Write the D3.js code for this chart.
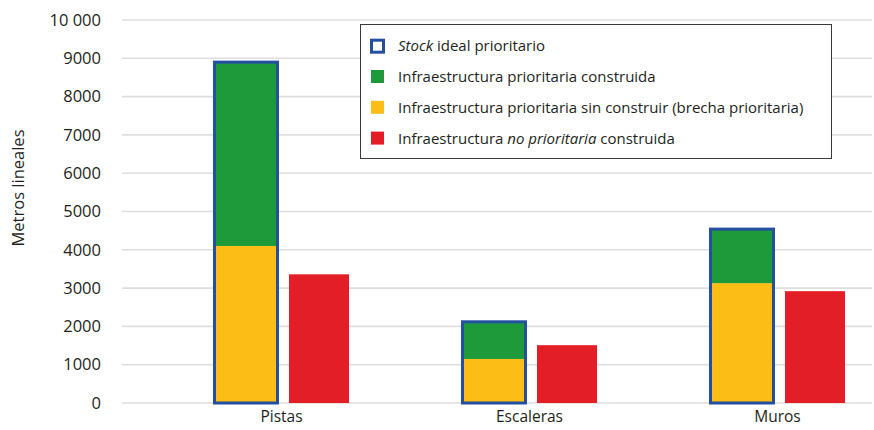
<!DOCTYPE html>
<html>
<head>
<meta charset="utf-8">
<script src="https://cdnjs.cloudflare.com/ajax/libs/d3/7.8.5/d3.min.js"></script>
<style>
  body{margin:0;background:#fff;}
  text{font-family:"Open Sans",sans-serif;fill:#231f20;}
</style>
</head>
<body>
<svg id="svg" width="874" height="430"></svg>
<script>
'use strict';

// data
var categories = ["Pistas", "Escaleras", "Muros"];
var brecha = [4100, 1150, 3130];        // prioritaria sin construir (yellow)
var construida = [4800, 970, 1410];     // prioritaria construida (green)
var noPrioritaria = [3360, 1510, 2920]; // no prioritaria construida (red)
var yTicks = [0,1000,2000,3000,4000,5000,6000,7000,8000,9000,10000];
var yTickLabels = ["0","1000","2000","3000","4000","5000","6000","7000","8000","9000","10 000"];

var colors = {green:"#1e9a3a", yellow:"#fbbd16", red:"#e41e26", blue:"#2450a0"};

var svg = d3.select("#svg");

var y = d3.scaleLinear().domain([0,10000]).range([403,20]);
var x = d3.scalePoint().domain(categories).range([281,777]);

// gridlines
svg.append("g").selectAll("line")
  .data(yTicks)
  .enter().append("line")
  .attr("x1",122).attr("x2",872)
  .attr("y1",function(d){return y(d);})
  .attr("y2",function(d){return y(d);})
  .style("stroke","#dedede")
  .style("stroke-width",1.6);

// y axis labels
var yAxis = d3.axisLeft(y).tickValues(yTicks)
  .tickFormat(function(d,i){return yTickLabels[i];})
  .tickSize(0).tickPadding(0);
var ya = svg.append("g").attr("transform","translate(101,0)").call(yAxis);
ya.select(".domain").remove();
ya.selectAll("text").style("font-size","16.5px").style("font-family","'Open Sans',sans-serif").style("fill","#231f20");

svg.append("text")
  .attr("transform","translate(24,188) rotate(-90)")
  .attr("text-anchor","middle")
  .style("font-size","16.5px")
  .text("Metros lineales");

// x axis labels
var xAxis = d3.axisBottom(x).tickSize(0).tickPadding(0);
var xa = svg.append("g").attr("transform","translate(0,411)").call(xAxis);
xa.select(".domain").remove();
xa.selectAll("text").style("font-size","15.5px").style("font-family","'Open Sans',sans-serif").style("fill","#231f20");

var stackW = 63, redW = 60, offS = 35, offR = 38;
var rows = categories.map(function(c,i){
  return {cat:c, brecha:brecha[i], construida:construida[i], red:noPrioritaria[i]};
});

// yellow part
svg.append("g").selectAll("rect").data(rows).enter().append("rect")
  .attr("x",function(d){return x(d.cat)-offS-stackW/2;})
  .attr("width",stackW)
  .attr("y",function(d){return y(d.brecha);})
  .attr("height",function(d){return y(0)-y(d.brecha);})
  .style("fill",colors.yellow);

// green part
svg.append("g").selectAll("rect").data(rows).enter().append("rect")
  .attr("x",function(d){return x(d.cat)-offS-stackW/2;})
  .attr("width",stackW)
  .attr("y",function(d){return y(d.brecha+d.construida);})
  .attr("height",function(d){return y(d.brecha)-y(d.brecha+d.construida);})
  .style("fill",colors.green);

// stock ideal outline
svg.append("g").selectAll("rect").data(rows).enter().append("rect")
  .attr("x",function(d){return x(d.cat)-offS-stackW/2;})
  .attr("width",stackW)
  .attr("y",function(d){return y(d.brecha+d.construida);})
  .attr("height",function(d){return y(0)-y(d.brecha+d.construida);})
  .style("fill","none")
  .style("stroke",colors.blue)
  .style("stroke-width",3);

// red bars
svg.append("g").selectAll("rect").data(rows).enter().append("rect")
  .attr("x",function(d){return x(d.cat)+offR-redW/2;})
  .attr("width",redW)
  .attr("y",function(d){return y(d.red);})
  .attr("height",function(d){return y(0)-y(d.red);})
  .style("fill",colors.red);

// legend
var legend = svg.append("g");
legend.append("rect")
  .attr("x",360.5).attr("y",24.5).attr("width",471).attr("height",134)
  .style("fill","#fff").style("stroke","#3a3a3a").style("stroke-width",1);

var items = [
  {parts:[["Stock",true],[" ideal prioritario",false]], type:"outline", color:colors.blue},
  {parts:[["Infraestructura prioritaria construida",false]], type:"fill", color:colors.green},
  {parts:[["Infraestructura prioritaria sin construir (brecha prioritaria)",false]], type:"fill", color:colors.yellow},
  {parts:[["Infraestructura ",false],["no prioritaria",true],[" construida",false]], type:"fill", color:colors.red}
];

var li = legend.selectAll(".item").data(items).enter().append("g")
  .attr("class","item")
  .attr("transform",function(d,i){return "translate(0,"+(45.7+i*30.8)+")";});

li.append("rect")
  .attr("x",function(d){return d.type=="outline"?371.5:371;})
  .attr("y",function(d){return d.type=="outline"?-5.5:-6.5;})
  .attr("width",function(d){return d.type=="outline"?12:13;})
  .attr("height",function(d){return d.type=="outline"?12:13;})
  .style("fill",function(d){return d.type=="outline"?"#fff":d.color;})
  .style("stroke",function(d){return d.type=="outline"?d.color:"none";})
  .style("stroke-width",3);

var lt = li.append("text")
  .attr("x",398)
  .attr("y",5.5)
  .style("font-size","15px");
lt.selectAll("tspan").data(function(d){return d.parts;}).enter().append("tspan")
  .style("font-style",function(p){return p[1]?"italic":"normal";})
  .text(function(p){return p[0];});
</script>
</body>
</html>
